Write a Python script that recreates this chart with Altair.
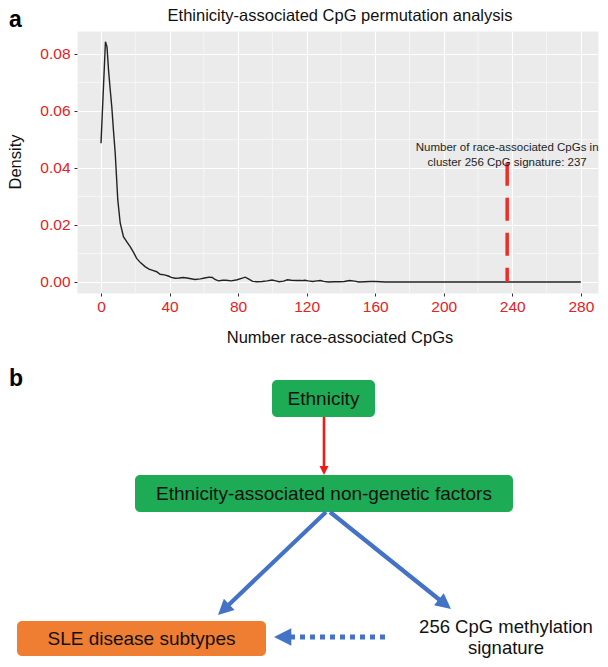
import math
import altair as alt
import pandas as pd

FONT = "Liberation Sans"

# ---------------- panel a: permutation density ----------------
cpg_x = [0, 1.2, 2.6, 3.5, 4.4, 5.3, 6.3, 7.3, 8.3, 9.8, 11.2, 13.1, 15, 17, 19, 20.8,
         23, 25.7, 28, 30.6, 32.5, 34.5, 37, 39.3, 41, 43.2, 45.5, 48, 51, 54.8, 58,
         60.5, 63, 65, 66.5, 68.5, 71, 73, 76, 79.5, 82, 84.2, 86, 88.5, 91, 94, 97,
         99.8, 102, 104, 106.5, 108.8, 111, 114.4, 117, 119, 121, 123.5, 126, 128, 130,
         132.5, 136, 139, 142, 145, 148, 150.5, 154, 157, 160, 163, 166, 170, 200, 240, 280]
cpg_density = [0.0487, 0.0650, 0.0843, 0.0825, 0.0744, 0.0680, 0.0615, 0.0530, 0.0452,
               0.0288, 0.0207, 0.0159, 0.0142, 0.0124, 0.0104, 0.0083, 0.0068, 0.0054,
               0.0045, 0.0040, 0.0036, 0.0027, 0.0025, 0.0021, 0.0016, 0.0013, 0.0014,
               0.0016, 0.0013, 0.0009, 0.0011, 0.0014, 0.0017, 0.0016, 0.0009, 0.0004,
               0.0006, 0.0006, 0.0004, 0.0008, 0.0013, 0.0017, 0.0011, 0.0002, 0.0001,
               0.0002, 0.0004, 0.0007, 0.0004, 0.0001, 0.0003, 0.0008, 0.0006, 0.0005,
               0.0005, 0.0006, 0.0004, 0.0002, 0.0004, 0.0005, 0.0002, 0.0000, 0.0001,
               0.0001, 0.0002, 0.0005, 0.0003, 0.0000, 0.0001, 0.0002, 0.0002, 0.0001,
               0.0000, 0.0000, 0.0000, 0.0000, 0.0000]
observed_cpgs = 237
observed_segment_top = 0.0418
x_ticks = [0, 40, 80, 120, 160, 200, 240, 280]
y_ticks = [0.0, 0.02, 0.04, 0.06, 0.08]
x_minor = [20, 60, 100, 140, 180, 220, 260]
y_minor = [0.01, 0.03, 0.05, 0.07]
annotation_lines = ["Number of race-associated CpGs in", "cluster 256 CpG signature: 237"]
annotation_y = [0.0470, 0.0418]

X_DOMAIN = [-14, 290]
Y_DOMAIN = [-0.00386, 0.08807]
PLOT_W, PLOT_H = 521, 262

# ---------------- panel b: diagram (layout grid units) ----------------
box_labels = ["Ethnicity", "Ethnicity-associated non-genetic factors", "SLE disease subtypes"]
box_x0 = [273, 136, 18]
box_x1 = [376, 514, 267]
box_y0 = [380, 475, 621]
box_y1 = [417, 512, 656]
box_fill = ["#1dab55", "#1dab55", "#ef7d32"]

arrow_x0 = [325, 327, 331]
arrow_y0 = [417, 512, 512]
arrow_x1 = [325, 219, 452]
arrow_y1 = [475, 615, 609]
arrow_color = ["#ee1b1b", "#4472c4", "#4472c4"]
arrow_width = [2.6, 4.2, 4.2]
arrow_head = [81, 240, 240]

dotted_x0, dotted_y0, dotted_x1, dotted_y1 = [386], [637], [275], [637]
dotted_head = [300]

free_text = ["256 CpG methylation", "signature"]
free_x = [507, 507]
free_y = [627, 648]

label_text = ["Ethinicity-associated CpG permutation analysis", "Number race-associated CpGs", "Density"]
label_x = [341, 341, 17]
label_y = [16, 338, 162]
label_size = [16.5, 16.5, 16.5]
label_angle = [0, 0, 270]

panel_tags = ["a", "b"]
tag_x = [10, 10]
tag_y = [9, 368]

# ---------------- helpers ----------------
def ax_x(field="x"):
    return alt.X(f"{field}:Q", title=None,
                 scale=alt.Scale(domain=X_DOMAIN, nice=False, zero=False),
                 axis=alt.Axis(values=x_ticks, labelColor="#e8201e", labelFontSize=15.5,
                               labelFont=FONT, tickColor="#333333", tickSize=3,
                               labelPadding=3, domain=False, grid=True,
                               gridColor="white", gridWidth=1.1, labelFlush=False))

def ax_y(field="y"):
    return alt.Y(f"{field}:Q", title=None,
                 scale=alt.Scale(domain=Y_DOMAIN, nice=False, zero=False),
                 axis=alt.Axis(values=y_ticks, format=".2f", labelColor="#e8201e",
                               labelFontSize=15.5, labelFont=FONT, tickColor="#333333",
                               tickSize=3, labelPadding=4, domain=False, grid=True,
                               gridColor="white", gridWidth=1.1, labelFlush=False))

DX = alt.Scale(domain=[78, 78 + PLOT_W], nice=False, zero=False)
DY = alt.Scale(domain=[31, 31 + PLOT_H], nice=False, zero=False, reverse=True)

def dx(f):
    return alt.X(f"{f}:Q", scale=DX, axis=None, title=None)

def dy(f):
    return alt.Y(f"{f}:Q", scale=DY, axis=None, title=None)

# ---------------- panel a layers ----------------
dens = pd.DataFrame({"x": cpg_x, "y": cpg_density})
minor_v = pd.DataFrame({"x": x_minor})
minor_h = pd.DataFrame({"y": y_minor})
seg = pd.DataFrame({"x": [observed_cpgs], "y": [observed_segment_top], "y2": [0.0]})
ann = pd.DataFrame({"x": [observed_cpgs] * 2, "y": annotation_y, "t": annotation_lines})

grid_v = alt.Chart(minor_v).mark_rule(color="white", strokeWidth=0.55).encode(x=ax_x())
grid_h = alt.Chart(minor_h).mark_rule(color="white", strokeWidth=0.55).encode(y=ax_y())
line = alt.Chart(dens).mark_line(color="#222222", strokeWidth=1.4).encode(x=ax_x(), y=ax_y())
vseg = alt.Chart(seg).mark_rule(color="#ee2b24", strokeWidth=3.5, strokeDash=[23, 12]).encode(
    x=ax_x(), y=ax_y(), y2="y2:Q")
ann_t = alt.Chart(ann).mark_text(font=FONT, fontSize=11.5, color="#1e1e1e",
                                 align="center", baseline="middle").encode(
    x=ax_x(), y=ax_y(), text="t:N")

panel_a = alt.layer(grid_v, grid_h, line, vseg, ann_t)

# ---------------- panel b layers ----------------
boxes = pd.DataFrame({"label": box_labels, "x0": box_x0, "x1": box_x1, "y0": box_y0,
                      "y1": box_y1, "fill": box_fill})
boxes["cx"] = (boxes.x0 + boxes.x1) / 2
boxes["cy"] = (boxes.y0 + boxes.y1) / 2


def arrow_frame(x0, y0, x1, y1, head):
    df = pd.DataFrame({"x0": x0, "y0": y0, "x1": x1, "y1": y1, "head": head})
    L = ((df.x1 - df.x0) ** 2 + (df.y1 - df.y0) ** 2) ** 0.5
    ux, uy = (df.x1 - df.x0) / L, (df.y1 - df.y0) / L
    hl = df["head"] ** 0.5
    df["sx"] = df.x1 - ux * hl * 0.8
    df["sy"] = df.y1 - uy * hl * 0.8
    df["angle"] = [(math.degrees(math.atan2(a, -b)) + 360) % 360 for a, b in zip(ux, uy)]
    return df

arr = arrow_frame(arrow_x0, arrow_y0, arrow_x1, arrow_y1, arrow_head)
arr["color"] = arrow_color
arr["w"] = arrow_width
dot = arrow_frame(dotted_x0, dotted_y0, dotted_x1, dotted_y1, dotted_head)
dot["color"] = ["#4472c4"]

HEAD = "M0,0L-1,2L1,2Z"

rects = alt.Chart(boxes).mark_rect(cornerRadius=5).encode(
    x=dx("x0"), x2="x1:Q", y=dy("y0"), y2="y1:Q",
    color=alt.Color("fill:N", scale=None))
box_text = alt.Chart(boxes).mark_text(font=FONT, fontSize=19, color="#111111",
                                      align="center", baseline="middle").encode(
    x=dx("cx"), y=dy("cy"), text="label:N")
shafts = alt.Chart(arr).mark_rule().encode(
    x=dx("x0"), y=dy("y0"), x2="sx:Q", y2="sy:Q",
    color=alt.Color("color:N", scale=None),
    strokeWidth=alt.StrokeWidth("w:Q", scale=None))
heads = alt.Chart(arr).mark_point(shape=HEAD, filled=True, opacity=1, strokeWidth=0).encode(
    x=dx("x1"), y=dy("y1"), size=alt.Size("head:Q", scale=None),
    angle=alt.Angle("angle:Q", scale=None), color=alt.Color("color:N", scale=None))
dot_shaft = alt.Chart(dot).mark_rule(strokeWidth=5, strokeDash=[5, 5]).encode(
    x=dx("x0"), y=dy("y0"), x2="sx:Q", y2="sy:Q", color=alt.Color("color:N", scale=None))
dot_head = alt.Chart(dot).mark_point(shape=HEAD, filled=True, opacity=1, strokeWidth=0).encode(
    x=dx("x1"), y=dy("y1"), size=alt.Size("head:Q", scale=None),
    angle=alt.Angle("angle:Q", scale=None), color=alt.Color("color:N", scale=None))
free = alt.Chart(pd.DataFrame({"t": free_text, "x": free_x, "y": free_y})).mark_text(
    font=FONT, fontSize=18.5, color="#111111", align="center", baseline="middle").encode(
    x=dx("x"), y=dy("y"), text="t:N")
labels = alt.Chart(pd.DataFrame({"t": label_text, "x": label_x, "y": label_y,
                                 "s": label_size, "a": label_angle})).mark_text(
    font=FONT, color="#111111", align="center", baseline="middle").encode(
    x=dx("x"), y=dy("y"), text="t:N", size=alt.Size("s:Q", scale=None),
    angle=alt.Angle("a:Q", scale=None))
tags = alt.Chart(pd.DataFrame({"t": panel_tags, "x": tag_x, "y": tag_y})).mark_text(
    font=FONT, fontSize=23, fontWeight="bold", color="#000000", align="left",
    baseline="top").encode(x=dx("x"), y=dy("y"), text="t:N")

panel_b = alt.layer(rects, box_text, shafts, heads, dot_shaft, dot_head, free, labels, tags)

chart = alt.layer(panel_a, panel_b).resolve_scale(
    x="independent", y="independent", color="independent", size="independent",
    angle="independent", strokeWidth="independent"
).properties(width=PLOT_W, height=PLOT_H, padding=0).configure_view(
    fill="#ebebeb", stroke="transparent")

chart.save("out.html", embed_options={"renderer": "svg", "actions": False})
